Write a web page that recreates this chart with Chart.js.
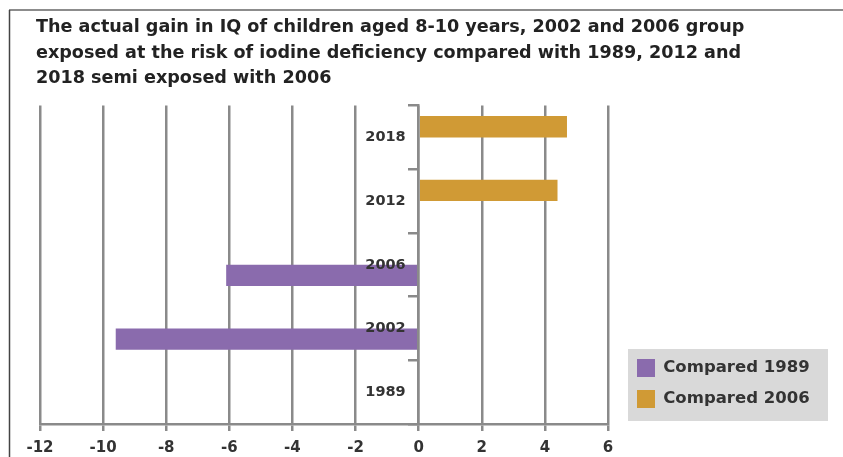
<!DOCTYPE html>
<html>
<head>
<meta charset="utf-8">
<script src="https://cdn.jsdelivr.net/npm/chart.js@4"></script>
<style>
  html, body { margin: 0; padding: 0; background: #fff; }
  #wrap { width: 843px; height: 457px; }
</style>
</head>
<body>
<div id="wrap"><canvas id="iqChart" width="843" height="457"></canvas></div>
<script>
Chart.defaults.font.family = "'DejaVu Sans', 'Liberation Sans', sans-serif";
Chart.defaults.color = '#333';

// datos
const years = ['1989', '2002', '2006', '2012', '2018'];
const compared1989 = [null, -9.6, -6.1, null, null];
const compared2006 = [null, null, null, 4.4, 4.7];
const xTicks = [-12, -10, -8, -6, -4, -2, 0, 2, 4, 6];
const titleLines = [
    'The actual gain in IQ of children aged 8-10 years, 2002 and 2006 group',
    'exposed at the risk of iodine deficiency compared with 1989, 2012 and',
    '2018 semi exposed with 2006'
];

// marco, leyenda fija abajo a la derecha con fondo gris
const frameAndLegend = {
    id: 'frameAndLegend',
    afterInit(chart) {
        const lg = chart.legend;
        const origFit = lg.fit;
        lg.fit = function() {
            origFit.call(this);
            this.width = 200;
        };
    },
    afterLayout(chart) {
        const lg = chart.legend;
        lg.left = 624;
        lg.right = lg.left + lg.width;
        lg.bottom = 421;
        lg.top = lg.bottom - lg.height;
        // el título empieza un poco más a la izquierda que el área del gráfico
        const t = chart.titleBlock;
        t.left -= 4;
        t.right -= 4;
    },
    beforeDraw(chart) {
        const c = chart.ctx;
        c.save();
        c.strokeStyle = '#8c8c8c';
        c.lineWidth = 2;
        c.beginPath();
        c.moveTo(9, 10);
        c.lineTo(843, 10);
        c.stroke();
        c.strokeStyle = '#444';
        c.lineWidth = 1.5;
        c.beginPath();
        c.moveTo(9.5, 10);
        c.lineTo(9.5, 457);
        c.stroke();
        const lg = chart.legend;
        c.fillStyle = '#d9d9d9';
        c.fillRect(628, lg.bottom - 72, 200, 72);
        c.restore();
    }
};

new Chart(document.getElementById('iqChart'), {
    type: 'bar',
    data: {
        labels: years,
        datasets: [{
            label: 'Compared 1989',
            data: compared1989,
            backgroundColor: '#8a6bad',
            order: 1
        }, {
            label: 'Compared 2006',
            data: compared2006,
            backgroundColor: '#d09a35',
            order: 0
        }]
    },
    options: {
        indexAxis: 'y',
        responsive: false,
        animation: false,
        categoryPercentage: 0.67,
        barPercentage: 1,
        layout: { padding: { left: 40, right: 35, top: 10, bottom: -8 } },
        plugins: {
            title: {
                display: true,
                text: titleLines,
                align: 'start',
                color: '#222',
                font: { size: 17.6, weight: 'bold', lineHeight: 1.45 },
                padding: { top: 5, bottom: 14 }
            },
            legend: {
                position: 'right',
                align: 'end',
                labels: {
                    boxWidth: 18,
                    boxHeight: 18,
                    padding: 13,
                    color: '#333',
                    font: { size: 16.5, weight: 'bold' },
                    sort: (a, b) => a.datasetIndex - b.datasetIndex
                }
            },
            tooltip: { enabled: false }
        },
        scales: {
            x: {
                min: -12,
                max: 6,
                afterBuildTicks: (axis) => { axis.ticks = xTicks.map(v => ({ value: v })); },
                grid: { color: '#8a8a8a', lineWidth: 2.5, tickLength: 7 },
                border: { color: '#8a8a8a', width: 2.5 },
                ticks: { padding: 8, color: '#333', font: { size: 15, weight: 'bold' } }
            },
            y: {
                reverse: true,
                position: { x: 0 },
                grid: { drawOnChartArea: false, color: '#8a8a8a', lineWidth: 2.5, tickLength: 9 },
                border: { color: '#8a8a8a', width: 2.5, z: 1 },
                ticks: { z: 1, color: '#333', font: { size: 14.5, weight: 'bold' } },
                afterUpdate: (axis) => {
                    // las etiquetas quedan pegadas al eje en x=0, se separan a la izquierda
                    const base = Object.getPrototypeOf(axis)._computeLabelItems;
                    axis._computeLabelItems = function(area) {
                        const items = base.call(this, area);
                        items.forEach(it => {
                            if (it.options && it.options.translation) it.options.translation[0] -= 13;
                        });
                        return items;
                    };
                }
            }
        }
    },
    plugins: [frameAndLegend]
});
</script>
</body>
</html>
